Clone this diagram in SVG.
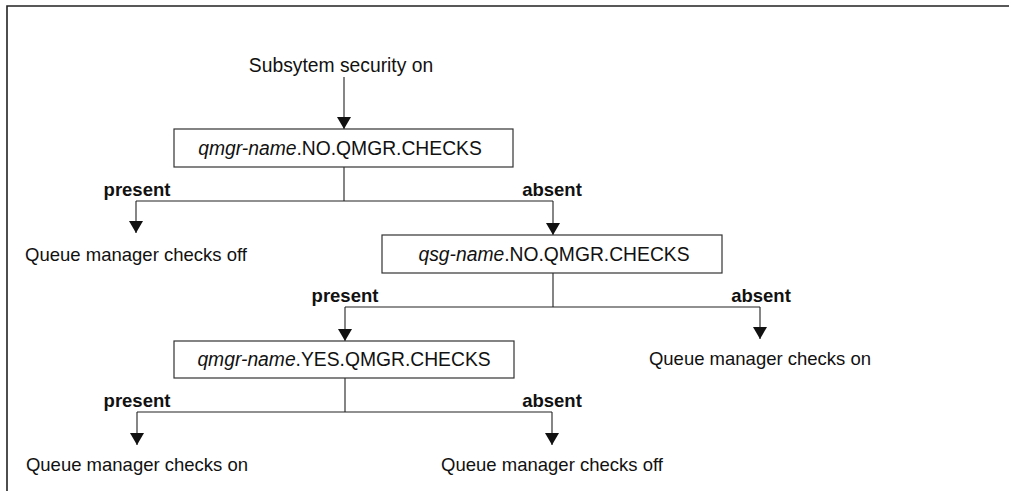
<svg xmlns="http://www.w3.org/2000/svg" width="1009" height="491" viewBox="0 0 1009 491">
  <style>
    text { font-family: "Liberation Sans", Arial, sans-serif; font-size: 18.5px; fill: #111; }
    .lbl { font-weight: bold; text-anchor: middle; }
    .mid { text-anchor: middle; }
    .big { font-size: 19.3px; }
    .box { fill: #fff; stroke: #333; stroke-width: 1.2; }
    .wire { fill: none; stroke: #222; stroke-width: 1.1; }
    .arr { fill: none; stroke: #222; stroke-width: 1.1; marker-end: url(#head); }
    .frame { fill: none; stroke: #222; stroke-width: 1.6; }
    .it { font-style: italic; }
  </style>
  <defs>
    <marker id="head" markerUnits="userSpaceOnUse" markerWidth="13" markerHeight="14" refX="12" refY="7" orient="auto">
      <path d="M0,0 L12,7 L0,14 z" fill="#111"/>
    </marker>
  </defs>

  <rect width="1009" height="491" fill="#fff"/>
  <!-- outer frame: top and left edges -->
  <path class="frame" d="M7,491 V6 H1009"/>

  <!-- connectors -->
  <g id="connectors">
    <path class="arr" d="M344,77 V129"/>
    <path class="wire" d="M344,167 V201 M136,201 H553"/>
    <path class="arr" d="M136,201 V233"/>
    <path class="arr" d="M553,201 V235"/>
    <path class="wire" d="M553,273 V307 M345,307 H760"/>
    <path class="arr" d="M345,307 V341"/>
    <path class="arr" d="M760,307 V339"/>
    <path class="wire" d="M345,378 V412 M137,412 H552"/>
    <path class="arr" d="M137,412 V445"/>
    <path class="arr" d="M552,412 V445"/>
    <text class="lbl" x="137" y="196">present</text>
    <text class="lbl" x="552" y="196">absent</text>
    <text class="lbl" x="345" y="302">present</text>
    <text class="lbl" x="761" y="302">absent</text>
    <text class="lbl" x="137" y="407">present</text>
    <text class="lbl" x="552" y="407">absent</text>
  </g>

  <g id="start">
    <text class="mid big" x="341" y="72">Subsytem security on</text>
  </g>

  <g id="qmgr-no-checks">
    <rect class="box" x="174" y="129" width="339" height="38"/>
    <text class="mid big" x="340" y="155"><tspan class="it">qmgr-name</tspan>.NO.QMGR.CHECKS</text>
  </g>

  <g id="off-1">
    <text class="mid" x="136" y="261">Queue manager checks off</text>
  </g>

  <g id="qsg-no-checks">
    <rect class="box" x="382" y="235" width="340" height="38"/>
    <text class="mid big" x="554" y="261"><tspan class="it">qsg-name</tspan>.NO.QMGR.CHECKS</text>
  </g>

  <g id="on-1">
    <text class="mid" x="760" y="365">Queue manager checks on</text>
  </g>

  <g id="qmgr-yes-checks">
    <rect class="box" x="174" y="341" width="340" height="37"/>
    <text class="mid big" x="344" y="366"><tspan class="it">qmgr-name</tspan>.YES.QMGR.CHECKS</text>
  </g>

  <g id="on-2">
    <text class="mid" x="137" y="471">Queue manager checks on</text>
  </g>

  <g id="off-2">
    <text class="mid" x="552" y="471">Queue manager checks off</text>
  </g>
</svg>
